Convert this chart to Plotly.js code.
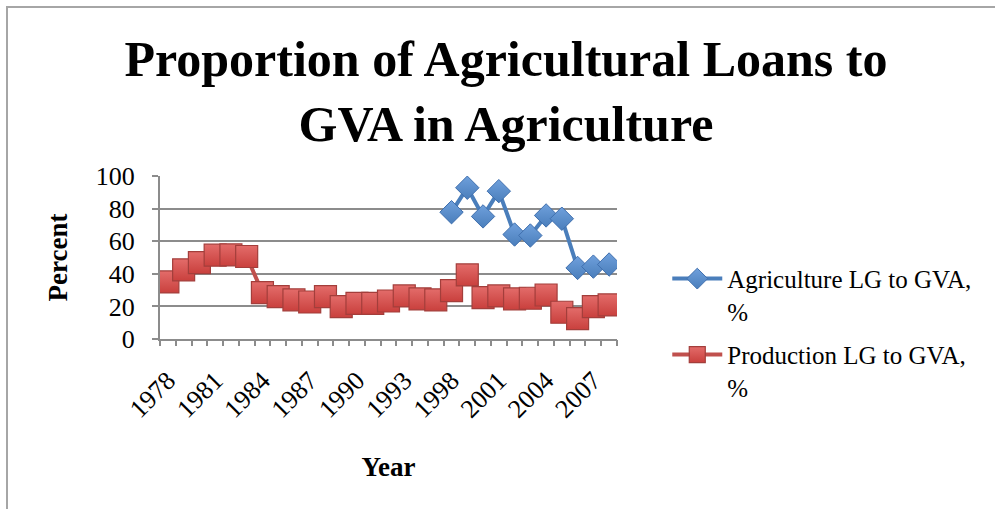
<!DOCTYPE html>
<html>
<head>
<meta charset="utf-8">
<script src="https://cdn.plot.ly/plotly-3.0.1.min.js"></script>
<style>
  html, body { margin: 0; padding: 0; background: #fff; }
  #frame { position: absolute; left: 6px; top: 6px; width: 995px; height: 509px; border-left: 2px solid #a6a6a6; border-top: 2px solid #a6a6a6; }
  #chart { position: absolute; left: 0; top: 0; width: 995px; height: 509px; }
</style>
</head>
<body>
<div id="frame"></div>
<div id="chart"></div>
<script>
const years = ["1978","1979","1980","1981","1982","1983","1984","1985","1986","1987","1988","1989","1990","1991","1992","1993","1996","1997","1998","1999","2000","2001","2002","2003","2004","2005","2006","2007","2008"];
const tickLabels = ["1978","1981","1984","1987","1990","1993","1998","2001","2004","2007"];
const agriYears = ["1998","1999","2000","2001","2002","2003","2004","2005","2006","2007","2008"];
const agriValues = [77.8, 92.8, 75.2, 90.7, 64.1, 63.5, 75.8, 73.8, 43.6, 44.4, 45.7];
const prodValues = [35.0, 42.4, 46.9, 51.4, 51.6, 50.6, 28.5, 26.0, 24.0, 22.7, 26.0, 19.9, 21.9, 21.9, 23.3, 26.4, 24.6, 24.0, 29.7, 39.3, 25.4, 26.4, 24.6, 25.0, 27.0, 16.4, 12.5, 19.9, 20.9];
const seriesNames = ["Agriculture LG to GVA,<br>%", "Production LG to GVA,<br>%"];

const serif = "Liberation Serif, DejaVu Serif, serif";
const traces = [
  {
    x: agriYears, y: agriValues, name: seriesNames[0], type: "scatter", mode: "lines+markers",
    legendgroup: "a",
    line: { color: "#4a7ebb", width: 4 },
    marker: { symbol: "diamond", size: 18, color: "#6fa0dc", line: { color: "#3f6fae", width: 1 },
              gradient: { type: "vertical", color: "#4a7ebb" } }
  },
  {
    x: years, y: prodValues, name: seriesNames[1], type: "scatter", mode: "lines+markers",
    legendgroup: "b",
    line: { color: "#c0504d", width: 4 },
    marker: { symbol: "square", size: 22, color: "#e36c6a", line: { color: "#a33e3b", width: 1.2 },
              gradient: { type: "vertical", color: "#c9403d" } }
  }
];

const layout = {
  width: 995, height: 509,
  paper_bgcolor: "rgba(0,0,0,0)", plot_bgcolor: "rgba(0,0,0,0)",
  margin: { l: 160, r: 378, t: 176, b: 170 },
  font: { family: serif, size: 24, color: "#000" },
  title: {
    text: "<b>Proportion of Agricultural Loans to<br>GVA in Agriculture</b>",
    font: { family: serif, size: 50, color: "#000" },
    x: 0.5085, xref: "container", xanchor: "center",
    y: 0.85, yref: "container", yanchor: "top"
  },
  xaxis: {
    type: "category", categoryorder: "array", categoryarray: years,
    range: [-0.5, 28.5], tickmode: "array", tickvals: tickLabels, ticktext: tickLabels,
    tickangle: -45, ticks: "", showgrid: false, zeroline: false,
    showline: true, linecolor: "#8c8c8c", linewidth: 2,
    tickfont: { family: serif, size: 26 }, ticklabelstandoff: 14,
    title: { text: "<b>Year</b>", font: { family: serif, size: 27 }, standoff: 35 }
  },
  xaxis2: {
    overlaying: "x", anchor: "y", side: "bottom", type: "linear",
    range: [-0.5, 28.5], tickmode: "linear", tick0: -0.5, dtick: 1,
    ticks: "outside", ticklen: 6, tickwidth: 2, tickcolor: "#8c8c8c",
    showticklabels: false, showgrid: false, zeroline: false, showline: false
  },
  yaxis: {
    range: [0, 100], dtick: 20, tick0: 0,
    ticks: "outside", ticklen: 6, tickwidth: 2, tickcolor: "#8c8c8c",
    showgrid: true, gridcolor: "#8c8c8c", gridwidth: 2, zeroline: false,
    showline: true, linecolor: "#8c8c8c", linewidth: 2,
    tickfont: { family: serif, size: 26 }, ticklabelstandoff: 12,
    title: { text: "<b>Percent</b>", font: { family: serif, size: 27 }, standoff: 20 }
  },
  showlegend: true,
  legend: {
    x: 1.11, xanchor: "left", y: 0.51, yanchor: "top",
    font: { family: serif, size: 25 },
    traceorder: "grouped", tracegroupgap: 8, valign: "top", itemwidth: 50,
    bgcolor: "rgba(0,0,0,0)"
  }
};

// helper trace that activates the boundary tick axis
traces.push({ x: [-0.5, 28.5], y: [null, null], xaxis: "x2", yaxis: "y", type: "scatter", mode: "markers", showlegend: false, hoverinfo: "skip" });

Plotly.newPlot("chart", traces, layout, { staticPlot: true });
</script>
</body>
</html>
